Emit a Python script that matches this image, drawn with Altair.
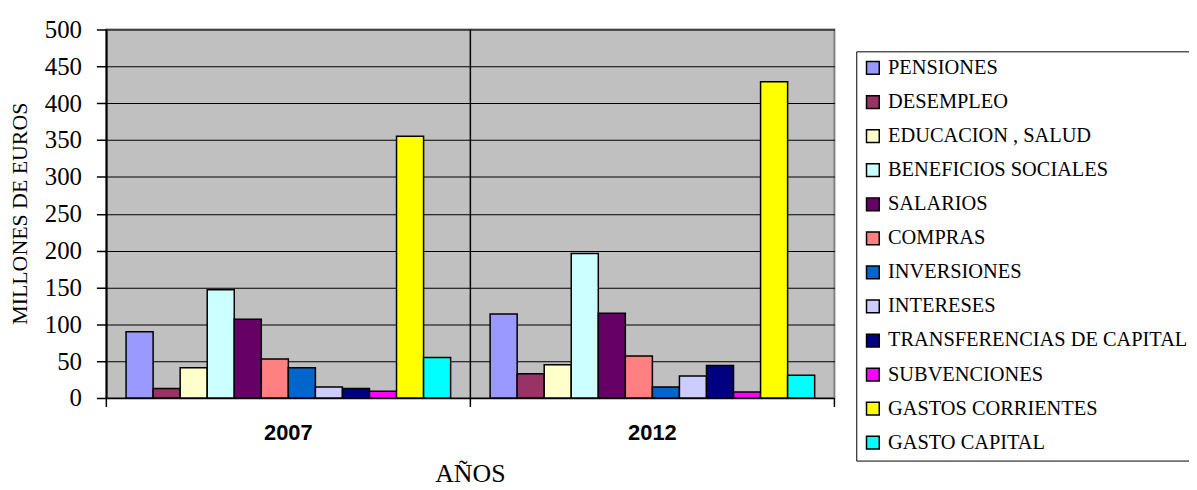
import altair as alt
import pandas as pd

years = ["2007", "2012"]
categories = [
    "PENSIONES", "DESEMPLEO", "EDUCACION , SALUD", "BENEFICIOS SOCIALES",
    "SALARIOS", "COMPRAS", "INVERSIONES", "INTERESES",
    "TRANSFERENCIAS DE CAPITAL", "SUBVENCIONES", "GASTOS CORRIENTES", "GASTO CAPITAL",
]
values_2007 = [90, 13, 41, 147, 107, 53, 41, 15, 13, 9, 355, 55]
values_2012 = [114, 33, 45, 196, 115, 57, 15, 30, 44, 8, 429, 31]
colors = [
    "#9999FF", "#993366", "#FFFFCC", "#CCFFFF", "#660066", "#FF8080",
    "#0066CC", "#CCCCFF", "#000080", "#FF00FF", "#FFFF00", "#00FFFF",
]

rows = []
for y, vals in zip(years, [values_2007, values_2012]):
    for c, v in zip(categories, vals):
        rows.append({"year": y, "categoria": c, "valor": v})
df = pd.DataFrame(rows)
df_years = pd.DataFrame({"year": years})

W, H = 733, 371
SERIF = "Liberation Serif, Times New Roman, Times, serif"
SANS = "Liberation Sans, Arial, sans-serif"

x_axis = alt.Axis(
    title="AÑOS", labelAngle=0, ticks=False, domain=True, domainColor="black",
    domainWidth=1.5, labelFont=SANS, labelFontWeight="bold",
    labelFontSize=22, labelColor="black", labelPadding=25,
    titleFont=SERIF, titleFontSize=26, titleFontWeight="normal",
    titleColor="black", titleX=366, titleY=84, titleBaseline="alphabetic",
    titleAnchor="start", titleAlign="center",
)
x_scale = alt.Scale(domain=years, paddingInner=0, paddingOuter=0)

bars = alt.Chart(df).mark_bar(stroke="black", strokeWidth=1.5).encode(
    x=alt.X("year:N", scale=x_scale, axis=x_axis),
    xOffset=alt.XOffset("categoria:N", sort=categories,
                        scale=alt.Scale(domain=categories, paddingInner=0, paddingOuter=0.73)),
    y=alt.Y("valor:Q", scale=alt.Scale(domain=[0, 500], nice=False),
            axis=alt.Axis(
                title="MILLONES DE EUROS", values=list(range(0, 501, 50)),
                grid=True, gridColor="black", gridWidth=1.2,
                domainColor="black", domainWidth=1.5, tickColor="black",
                tickWidth=1.5, tickSize=10, labelPadding=15,
                labelFont=SERIF, labelFontSize=25, labelColor="black",
                titleFont=SERIF, titleFontSize=22, titleFontWeight="normal",
                titleColor="black", titleX=-87, titleY=185, titleAngle=-90,
                titleAlign="center", titleBaseline="middle", titleAnchor="start",
            )),
    color=alt.Color("categoria:N", sort=categories,
                    scale=alt.Scale(domain=categories, range=colors),
                    legend=alt.Legend(
                        title=None, orient="none", legendX=755, legendY=22,
                        symbolType="square", symbolSize=165, symbolStrokeColor="black",
                        symbolStrokeWidth=1.5, symbolOpacity=1,
                        labelFont=SERIF, labelFontSize=20.5,
                        labelColor="black", labelLimit=600, labelOffset=5,
                        rowPadding=13.3, padding=6.5, strokeColor="black",
                        fillColor="white", direction="vertical",
                    )),
)

dividers = alt.Chart(df_years).mark_rule(color="black", strokeWidth=1.5).encode(
    x=alt.X("year:N", scale=x_scale, axis=x_axis, bandPosition=0),
    y=alt.value(0),
    y2=alt.value(H + 9),
)

right_tick = alt.Chart(pd.DataFrame({"year": ["2012"]})).mark_rule(
    color="black", strokeWidth=1.5).encode(
    x=alt.value(W), y=alt.value(H), y2=alt.value(H + 9),
)

chart = alt.layer(bars, dividers, right_tick).properties(
    width=W, height=H,
    autosize=alt.AutoSizeParams(type="none"),
    padding={"left": 99, "top": 20, "right": 357, "bottom": 91},
    background="white",
).configure_view(
    fill="#C0C0C0", stroke="#808080", strokeWidth=2,
)

chart.save("out.html", embed_options={"renderer": "svg", "actions": False})
